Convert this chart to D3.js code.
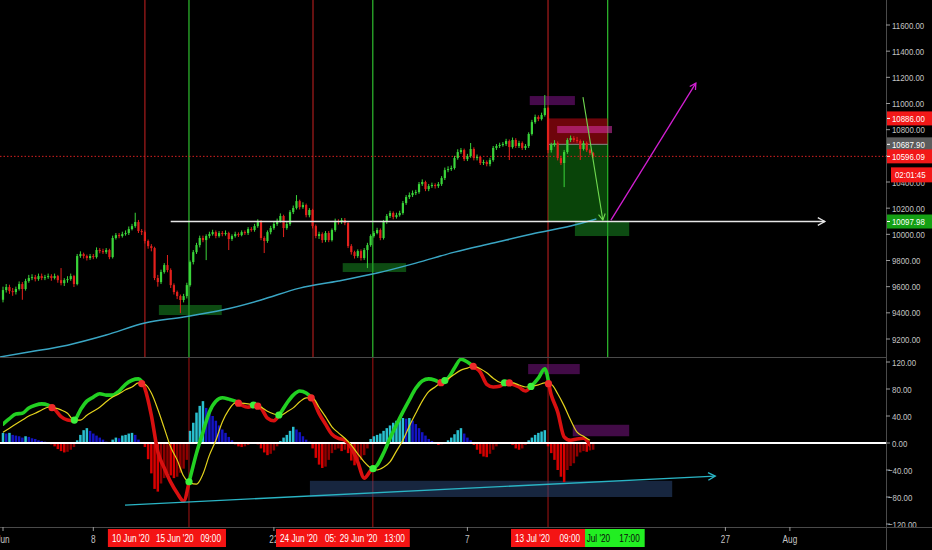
<!DOCTYPE html>
<html><head><meta charset="utf-8">
<script src="https://cdn.jsdelivr.net/npm/d3@7"></script>
<style>
body{margin:0;background:#000;}
svg{display:block;}
</style>
</head><body>
<svg id="c" width="932" height="550"></svg>
<script>
// ---------------- DATA ----------------
const START = "2020-06-01T00:00:00Z";   // first 6h candle
const firstOpen = 9500;
const closes = [9574,9597,9566,9559,9582,9620,9582,9643,9666,9673,
9658,9681,9666,9673,9681,9666,9681,9650,9627,9650,
9658,9681,9620,9834,9849,9834,9819,9834,9826,9880,
9872,9864,9880,9826,9972,9994,9987,10002,10010,10040,
10063,10094,10025,10017,9949,9910,9895,9666,9635,9712,
9765,9727,9612,9559,9528,9498,9528,9612,9788,9864,
9918,9972,9956,9987,10002,10017,9987,10010,10002,10010,
9964,9987,10002,9994,10017,10010,10040,10033,10063,10094,
9972,9949,10017,10048,10079,10102,10140,10048,10079,10170,
10201,10254,10208,10224,10147,10186,10063,9987,10002,9956,
10010,9956,10033,10102,10094,10109,10086,9910,9864,9834,
9872,9819,9880,9918,9987,10010,10033,9972,10094,10140,
10163,10132,10147,10163,10239,10285,10300,10316,10323,10384,
10400,10346,10369,10377,10369,10384,10430,10491,10499,10507,
10583,10629,10644,10575,10598,10652,10583,10591,10545,10553,
10537,10568,10660,10675,10683,10690,10713,10667,10721,10675,
10698,10660,10675,10767,10858,10897,10881,10912,10965,10644,
10683,10698,10583,10545,10629,10721,10736,10721,10713,10652,
10698,10644,10621,10596];
const highs = [9600,9620,9615,9590,9600,9640,9635,9660,9690,9695,
9690,9700,9700,9690,9700,9695,9700,9690,9742,9665,
9680,9700,9690,9850,9870,9860,9845,9850,9850,9900,
9895,9890,9895,9890,9990,10010,10010,10020,10030,10060,
10080,10165,10110,10040,10030,9960,9925,9905,9690,9730,
9780,9842,9740,9625,9570,9540,9545,9630,9800,9880,
9935,9990,9990,10000,10020,10035,10030,10025,10025,10030,
10020,10000,10020,10015,10030,10030,10055,10055,10080,10115,
10109,9985,10030,10065,10095,10120,10160,10150,10095,10185,
10220,10300,10265,10245,10235,10200,10195,10075,10020,10015,
10025,10025,10045,10120,10115,10125,10125,10095,9925,9875,
9885,9885,9895,9935,10000,10025,10050,10045,10110,10155,
10180,10175,10165,10180,10255,10300,10320,10335,10340,10400,
10420,10410,10385,10395,10390,10400,10445,10510,10520,10525,
10600,10650,10660,10655,10615,10698,10665,10610,10600,10570,
10565,10585,10675,10690,10700,10705,10730,10725,10740,10735,
10715,10710,10690,10780,10875,10915,10910,10930,11065,10975,
10700,10720,10710,10600,10645,10735,10755,10750,10745,10725,
10715,10710,10655,10630];
const lows = [9480,9555,9545,9530,9540,9570,9500,9570,9630,9650,
9640,9645,9650,9650,9660,9645,9655,9630,9610,9605,
9630,9645,9597,9610,9820,9815,9800,9805,9810,9815,
9855,9850,9850,9810,9815,9960,9970,9975,9990,9995,
10030,10050,10010,9995,9930,9890,9870,9650,9600,9620,
9700,9710,9590,9540,9505,9398,9480,9510,9600,9770,
9850,9900,9940,9803,9970,9990,9970,9975,9985,9990,
9880,9950,9975,9980,9985,9995,9995,10020,10020,10050,
9955,9857,9935,10000,10035,10065,10090,9979,10035,10065,
10155,10190,10190,10195,10130,10130,10045,9970,9965,9935,
9940,9940,9945,10020,10075,10080,10070,9895,9845,9815,
9820,9800,9805,9742,9905,9975,10000,9955,9960,10080,
10125,10115,10120,10135,10150,10225,10270,10285,10300,10310,
10370,10330,10330,10355,10350,10355,10370,10415,10475,10485,
10495,10570,10615,10560,10560,10585,10565,10565,10530,10530,
10520,10520,10555,10645,10660,10670,10675,10568,10655,10660,
10660,10645,10645,10660,10755,10845,10865,10870,10900,10620,
10625,10670,10565,10530,10361,10615,10705,10705,10700,10568,
10640,10630,10605,10585];

// moving average (days after START, price)
const maDays = [-0.3,2,5,8,11,14,17,20,23,26,29,32,35,38,41,44,46];
const maVals = [9062,9100,9153,9230,9322,9368,9421,9498,9589,9643,9704,9780,9864,9933,10002,10063,10117];

// oscillator, one value every 12h (every 2nd candle)
const wt1 = [28,36,43,44,52,56,58,56,50,39,
34,33,49,62,68,73,71,71,77,87,
93,95,81,41,-13,-37,-58,-74,-86,-52,
-15,16,46,62,67,65,62,56,53,57,
52,37,33,44,59,71,77,74,65,44,
28,13,7,4,-7,-28,-52,-41,-33,-15,
7,27,46,64,81,92,95,93,89,96,
111,124,120,113,105,87,83,84,91,87,
83,77,85,96,110,71,46,9,4,6,
7,-3];
const wt2 = [16,22,28,34,40,44,49,53,52,49,
44,34,34,41,47,53,61,68,73,79,
83,89,87,74,50,22,-6,-25,-49,-59,
-61,-46,-18,4,31,49,59,59,58,56,
53,47,43,41,46,52,61,67,67,53,
39,24,15,7,-3,-16,-28,-37,-40,-36,
-28,-12,4,25,44,62,76,83,90,95,
102,108,111,114,110,104,96,90,89,89,
86,83,84,86,89,87,73,55,34,16,
10,4];
// histogram, one value per 6h candle
const hist = [15,14,15,12,11,10,8,10,9,7,
6,4,3,2,1,-2,-5,-9,-12,-14,
-13,-10,-6,4,12,19,22,18,14,11,
8,5,2,1,5,8,7,11,12,14,
15,12,5,1,-6,-24,-45,-68,-72,-60,
-52,-45,-48,-52,-50,-44,-38,-25,18,30,
45,55,62,52,46,40,33,26,20,15,
9,4,-2,-5,-6,-5,-3,-1,0,-2,
-8,-14,-18,-16,-11,-5,3,8,12,18,
24,20,16,10,5,2,-8,-22,-32,-37,
-35,-25,-15,-10,-8,-12,-10,-15,-26,-33,
-30,-25,-18,-8,6,10,12,14,18,22,
26,30,33,35,37,36,37,33,28,22,
16,11,6,3,1,-3,-2,0,4,8,
13,19,22,14,8,4,-3,-10,-16,-20,
-21,-16,-10,-5,-1,0,1,0,-3,-8,
-10,-8,-3,4,8,12,15,17,19,-5,
-15,-25,-40,-50,-58,-40,-34,-30,-20,-14,
-12,-13,-11,-10];

// axis ticks
const priceTicks = [9200,9400,9600,9800,10000,10200,10400,10600,10800,11000,11200,11400,11600];
const oscTicks = [-120,-80,-40,0,40,80,120];
const timeTicks = ["2020-06-01","2020-06-08","2020-06-22","2020-07-07","2020-07-27","2020-08-01"];
const timeTickLabels = ["Jun","8","22","7","27","Aug"];

// vertical marker lines
const vLineTimes = ["2020-06-12T00:00Z","2020-06-15T10:00Z","2020-06-25T00:45Z","2020-06-29T16:00Z","2020-07-13T06:00Z","2020-07-17T21:00Z"];
const vLineKinds = ["sell","buy","sell","buy","sell","buy"];
const oscVLineTimes = ["2020-06-15T10:00Z","2020-06-29T16:00Z","2020-07-13T06:00Z"];
// time-axis marker labels [date text, time text]
const vLineDateText = ["10 Jun '20","15 Jun '20","24 Jun '20","29 Jun '20","13 Jul '20","Jul '20"];
const vLineTimeText = ["","09:00","05:","13:00","09:00","17:00"];

// price-scale labels
const priceLabelVals = [10886.00,10687.90,10596.09,10097.98];
const priceLabelKinds = ["stop","entry","last","target"];
const countdownText = "02:01:45";
const lastPrice = 10596.09;

// drawings (time, price)
const levelLine = {t1:"2020-06-14T00:00Z", t2:"2020-08-03T17:00Z", p:10097.98};
const zoneT = [["2020-06-13T02:00Z","2020-06-17T23:00Z"],["2020-06-27T08:00Z","2020-07-02T06:00Z"],["2020-07-15T08:00Z","2020-07-19T13:00Z"]];
const zoneP = [[9460,9383],[9780,9712],[10098,9987]];
const purpleT = [["2020-07-11T20:00Z","2020-07-15T08:00Z"]];
const purpleP = [[11057,10988]];
const pinkT = ["2020-07-13T23:00Z","2020-07-18T05:00Z"];
const pinkP = [10828,10774];
const positionT = ["2020-07-13T06:00Z","2020-07-17T21:00Z"];
const positionP = {stop:10886, entry:10687.9, target:10097.98};
const greenArrow = [["2020-07-15T23:00Z",11049],["2020-07-17T12:00Z",10109]];
const magentaArrow = [["2020-07-18T03:00Z",10109],["2020-07-24T17:00Z",11156]];
// oscillator drawings
const oscArrow = [["2020-06-10T11:00Z",-92],["2020-07-26T05:00Z",-49]];
const oscNavyT = ["2020-06-24T19:00Z","2020-07-22T21:00Z"], oscNavyV = [-56,-80];
const oscPurpleT = [["2020-07-11T17:00Z","2020-07-15T17:00Z"],["2020-07-15T04:00Z","2020-07-19T13:00Z"]];
const oscPurpleV = [[117,102],[27,10]];

// ---------------- CHART ----------------
const W=932, H=550, AX=886, P_BOT=357, O_TOP=358, O_BOT=527;
const FONT = "'Liberation Sans',Arial,sans-serif";
const FS = "9.6px";
const svg = d3.select("#c").style("font-family", FONT);
const t0 = new Date(START);
const T = s => new Date(s);
const x = d3.scaleUtc().domain([t0, d3.utcDay.offset(t0,68)]).range([3, 3+12.9*68]);
const yP = d3.scaleLinear().domain([9200,11600]).range([339,25]);
const yO = d3.scaleLinear().domain([-120,120]).range([524,362]);
const candleT = i => d3.utcHour.offset(t0, 6*i);
const dayT = d => new Date(t0.getTime() + d*864e5);
// condense text horizontally (chart font is a narrow face)
function squeeze(sel, f=0.82){
  sel.each(function(){
    const w = this.getComputedTextLength();
    if (w>0){ this.setAttribute("textLength", (w*f).toFixed(1)); this.setAttribute("lengthAdjust","spacingAndGlyphs"); }
  });
  return sel;
}

svg.append("rect").attr("width",W).attr("height",H).attr("fill","#000");
const defs = svg.append("defs");
defs.append("clipPath").attr("id","cp").append("rect").attr("x",0).attr("y",0).attr("width",AX).attr("height",P_BOT);
defs.append("clipPath").attr("id","co").append("rect").attr("x",0).attr("y",O_TOP).attr("width",AX).attr("height",O_BOT-O_TOP);
defs.append("clipPath").attr("id","cax").append("rect").attr("x",AX).attr("y",O_TOP).attr("width",W-AX).attr("height",O_BOT-O_TOP);

function arrowHead(g, x1,y1,x2,y2,size,color,w){
  const a = Math.atan2(y2-y1,x2-x1);
  const p = [[x2-size*Math.cos(a-0.5), y2-size*Math.sin(a-0.5)],[x2,y2],[x2-size*Math.cos(a+0.5), y2-size*Math.sin(a+0.5)]];
  g.append("path").attr("d", d3.line()(p)).attr("fill","none").attr("stroke",color).attr("stroke-width",w);
}

// ---------- price pane ----------
const gp = svg.append("g").attr("clip-path","url(#cp)");
vLineTimes.forEach((t,i)=>{
  gp.append("line").attr("x1",x(T(t))).attr("x2",x(T(t))).attr("y1",0).attr("y2",P_BOT)
    .attr("stroke", vLineKinds[i]==="buy" ? "#2fbf2f" : "#a81c1c").attr("stroke-width",1.2);
});
// position tool
const px1 = x(T(positionT[0])), px2 = x(T(positionT[1]));
gp.append("rect").attr("x",px1).attr("width",px2-px1).attr("y",yP(positionP.stop)).attr("height",yP(positionP.entry)-yP(positionP.stop))
  .attr("fill","rgba(200,10,20,0.55)");
gp.append("rect").attr("x",px1).attr("width",px2-px1).attr("y",yP(positionP.entry)).attr("height",yP(positionP.target)-yP(positionP.entry))
  .attr("fill","rgba(20,150,20,0.45)");
gp.append("line").attr("x1",px1).attr("x2",px2).attr("y1",yP(positionP.entry)).attr("y2",yP(positionP.entry)).attr("stroke","#8a8a8a").attr("stroke-width",1);
// zones
zoneT.forEach((tt,i)=>{
  gp.append("rect").attr("x",x(T(tt[0]))).attr("width",x(T(tt[1]))-x(T(tt[0])))
    .attr("y",yP(zoneP[i][0])).attr("height",yP(zoneP[i][1])-yP(zoneP[i][0])).attr("fill","rgba(25,150,35,0.5)");
});
purpleT.forEach((tt,i)=>{
  gp.append("rect").attr("x",x(T(tt[0]))).attr("width",x(T(tt[1]))-x(T(tt[0])))
    .attr("y",yP(purpleP[i][0])).attr("height",yP(purpleP[i][1])-yP(purpleP[i][0])).attr("fill","rgba(140,20,150,0.5)");
});
gp.append("rect").attr("x",x(T(pinkT[0]))).attr("width",x(T(pinkT[1]))-x(T(pinkT[0])))
  .attr("y",yP(pinkP[0])).attr("height",yP(pinkP[1])-yP(pinkP[0])).attr("fill","rgba(215,50,170,0.55)");
// last price dotted line
gp.append("line").attr("x1",0).attr("x2",AX).attr("y1",yP(lastPrice)).attr("y2",yP(lastPrice))
  .attr("stroke","#d42020").attr("stroke-width",1).attr("stroke-dasharray","1.5,2");
// MA
gp.append("path").datum(maDays.map((d,i)=>({t:dayT(d), v:maVals[i]})))
  .attr("d", d3.line().x(d=>x(d.t)).y(d=>yP(d.v)).curve(d3.curveMonotoneX))
  .attr("fill","none").attr("stroke","#3aa6c4").attr("stroke-width",1.5);
// candles
const candles = closes.map((c,i)=>({t:candleT(i), o: i? closes[i-1] : firstOpen, h:highs[i], l:lows[i], c}));
const cg = gp.append("g");
candles.forEach(d=>{
  const cx = x(d.t), col = d.c >= d.o ? "#3ad43a" : "#e3201c";
  cg.append("line").attr("x1",cx).attr("x2",cx).attr("y1",yP(d.h)).attr("y2",yP(d.l)).attr("stroke",col).attr("stroke-width",1);
  const top = yP(Math.max(d.o,d.c)), bot = yP(Math.min(d.o,d.c));
  cg.append("rect").attr("x",cx-1.1).attr("width",2.2).attr("y",top).attr("height",Math.max(1,bot-top)).attr("fill",col);
});
// level line
gp.append("line").attr("x1",x(T(levelLine.t1))).attr("x2",x(T(levelLine.t2))).attr("y1",yP(levelLine.p)).attr("y2",yP(levelLine.p))
  .attr("stroke","#e6e6e6").attr("stroke-width",1.5);
arrowHead(gp, x(T(levelLine.t1)), yP(levelLine.p), x(T(levelLine.t2)), yP(levelLine.p), 8, "#e6e6e6", 1.3);
// arrows
[[greenArrow,"#6fd84f",1.1],[magentaArrow,"#d21fd2",1.3]].forEach(([a,c,w])=>{
  const x1=x(T(a[0][0])), y1=yP(a[0][1]), x2=x(T(a[1][0])), y2=yP(a[1][1]);
  gp.append("line").attr("x1",x1).attr("y1",y1).attr("x2",x2).attr("y2",y2).attr("stroke",c).attr("stroke-width",w);
  arrowHead(gp,x1,y1,x2,y2,7,c,w);
});

// ---------- oscillator pane ----------
const go = svg.append("g").attr("clip-path","url(#co)");
oscVLineTimes.forEach(t=>{
  go.append("line").attr("x1",x(T(t))).attr("x2",x(T(t))).attr("y1",O_TOP).attr("y2",O_BOT).attr("stroke","#8a1010").attr("stroke-width",1.2);
});
go.append("rect").attr("x",x(T(oscNavyT[0]))).attr("width",x(T(oscNavyT[1]))-x(T(oscNavyT[0])))
  .attr("y",yO(oscNavyV[0])).attr("height",yO(oscNavyV[1])-yO(oscNavyV[0])).attr("fill","rgba(45,75,125,0.5)");
oscPurpleT.forEach((tt,i)=>{
  go.append("rect").attr("x",x(T(tt[0]))).attr("width",x(T(tt[1]))-x(T(tt[0])))
    .attr("y",yO(oscPurpleV[i][0])).attr("height",yO(oscPurpleV[i][1])-yO(oscPurpleV[i][0])).attr("fill","rgba(120,20,130,0.55)");
});
// histogram
hist.forEach((v,i)=>{
  const prev = i ? hist[i-1] : v;
  let col;
  if (v >= 0) col = v >= prev ? "#2ac0d0" : "#1414c4";
  else col = v < prev ? "#d80000" : "#8e0000";
  const cx = x(candleT(i));
  go.append("rect").attr("x",cx-1.25).attr("width",2.5)
    .attr("y",Math.min(yO(0),yO(v))).attr("height",Math.abs(yO(v)-yO(0))).attr("fill",col);
});
go.append("line").attr("x1",0).attr("x2",AX).attr("y1",yO(0)).attr("y2",yO(0)).attr("stroke","#ffffff").attr("stroke-width",2);
// wave lines
const wData = wt1.map((v,j)=>({t:candleT(2*j), v, w:wt2[j]}));
const curve = d3.curveMonotoneX;
defs.append("clipPath").attr("id","above").append("path")
  .attr("d", d3.area().x(d=>x(d.t)).y0(O_TOP-20).y1(d=>yO(d.w)).curve(curve)(wData));
defs.append("clipPath").attr("id","below").append("path")
  .attr("d", d3.area().x(d=>x(d.t)).y0(O_BOT+20).y1(d=>yO(d.w)).curve(curve)(wData));
const wLine = d3.line().x(d=>x(d.t)).y(d=>yO(d.v)).curve(curve);
go.append("path").datum(wData).attr("d",wLine).attr("fill","none").attr("stroke","#22d022").attr("stroke-width",3.6)
  .attr("stroke-linecap","round").attr("clip-path","url(#above)");
go.append("path").datum(wData).attr("d",wLine).attr("fill","none").attr("stroke","#d81010").attr("stroke-width",3.6)
  .attr("stroke-linecap","round").attr("clip-path","url(#below)");
go.append("path").datum(wData).attr("d", d3.line().x(d=>x(d.t)).y(d=>yO(d.w)).curve(curve))
  .attr("fill","none").attr("stroke","#e3d21c").attr("stroke-width",1.2);
// cross dots
for (let j=1;j<wData.length;j++){
  const d0 = wt1[j-1]-wt2[j-1], d1 = wt1[j]-wt2[j];
  if ((d0<=0 && d1>0) || (d0>=0 && d1<0)){
    const f = d0/(d0-d1);
    const tm = new Date(wData[j-1].t.getTime() + f*(wData[j].t - wData[j-1].t));
    const v = wt2[j-1] + f*(wt2[j]-wt2[j-1]);
    go.append("circle").attr("cx",x(tm)).attr("cy",yO(v)).attr("r",3.6).attr("fill", d1>0 ? "#3cf03c" : "#f02a2a");
  }
}
// osc arrow
{
  const x1=x(T(oscArrow[0][0])), y1=yO(oscArrow[0][1]), x2=x(T(oscArrow[1][0])), y2=yO(oscArrow[1][1]);
  go.append("line").attr("x1",x1).attr("y1",y1).attr("x2",x2).attr("y2",y2).attr("stroke","#2ab5c5").attr("stroke-width",1.4);
  arrowHead(go,x1,y1,x2,y2,8,"#2ab5c5",1.4);
}

// ---------- axes / frame ----------
svg.append("line").attr("x1",0).attr("x2",AX).attr("y1",P_BOT+0.5).attr("y2",P_BOT+0.5).attr("stroke","#4a4a4a");
svg.append("line").attr("x1",0).attr("x2",W).attr("y1",O_BOT+0.5).attr("y2",O_BOT+0.5).attr("stroke","#4a4a4a");
svg.append("line").attr("x1",AX+0.5).attr("x2",AX+0.5).attr("y1",0).attr("y2",H).attr("stroke","#4a4a4a");
const fmt = d3.format(".2f");
const ga = svg.append("g").attr("font-size",FS).attr("fill","#c4c4c4");
const LX = 892;
priceTicks.forEach(v=>{
  ga.append("line").attr("x1",AX).attr("x2",AX+4).attr("y1",yP(v)).attr("y2",yP(v)).attr("stroke","#9a9a9a");
  squeeze(ga.append("text").attr("x",LX).attr("y",yP(v)).attr("dominant-baseline","central").text(fmt(v)));
});
const gao = ga.append("g").attr("clip-path","url(#cax)");
oscTicks.forEach(v=>{
  gao.append("line").attr("x1",AX).attr("x2",AX+4).attr("y1",yO(v)).attr("y2",yO(v)).attr("stroke","#9a9a9a");
  squeeze(gao.append("text").attr("x",v<0?888:LX).attr("y",yO(v)).attr("dominant-baseline","central").text(fmt(v)));
});
// time ticks
const gt = svg.append("g").attr("font-size","10px").attr("fill","#c4c4c4");
timeTicks.forEach((t,i)=>{
  const tx = x(T(t+"T00:00Z"));
  gt.append("line").attr("x1",tx).attr("x2",tx).attr("y1",O_BOT).attr("y2",O_BOT+4).attr("stroke","#9a9a9a");
  squeeze(gt.append("text").attr("x",tx).attr("y",539).attr("text-anchor","middle").attr("dominant-baseline","central").text(timeTickLabels[i]));
});
// marker labels on time axis (13 Jul drawn on top of 17 Jul)
const order = [0,1,2,3,5,4];
order.forEach(i=>{
  const cx = x(T(vLineTimes[i]));
  const buy = i===5;
  const bx = cx-37, bw = 74;
  gt.append("rect").attr("x",bx).attr("y",529).attr("width",bw).attr("height",18).attr("fill", buy ? "#22ee22" : "#f41414");
  const tc = buy ? "#0a0a0a" : "#ffffff";
  const dateX = buy ? bx+16 : bx+4;
  squeeze(gt.append("text").attr("x",dateX).attr("y",538.5).attr("dominant-baseline","central").attr("fill",tc).text(vLineDateText[i]));
  if (vLineTimeText[i]) {
    const short = vLineTimeText[i].length < 4;
    squeeze(gt.append("text").attr("x", short ? bx+49 : bx+bw-5).attr("text-anchor", short ? "start" : "end")
      .attr("y",538.5).attr("dominant-baseline","central").attr("fill",tc).text(vLineTimeText[i]));
  }
});
// price labels
const kindFill = {stop:"#f21818", entry:"#5c5c5c", last:"#f21818", target:"#14a014"};
priceLabelVals.forEach((v,i)=>{
  const cy = yP(v);
  ga.append("rect").attr("x",AX+1).attr("y",cy-7).attr("width",W-AX-1).attr("height",14).attr("fill",kindFill[priceLabelKinds[i]]);
  ga.append("line").attr("x1",AX+1).attr("x2",AX+4).attr("y1",cy).attr("y2",cy).attr("stroke","#ffffff");
  squeeze(ga.append("text").attr("x",LX).attr("y",cy).attr("dominant-baseline","central").attr("fill","#ffffff").text(fmt(v)));
});
{
  const cy = yP(lastPrice) + 18.5;
  ga.append("rect").attr("x",891).attr("y",cy-7.5).attr("width",W-891).attr("height",15).attr("fill","#f21818");
  squeeze(ga.append("text").attr("x",895).attr("y",cy).attr("dominant-baseline","central").attr("fill","#ffffff").text(countdownText));
}
</script>
</body></html>
